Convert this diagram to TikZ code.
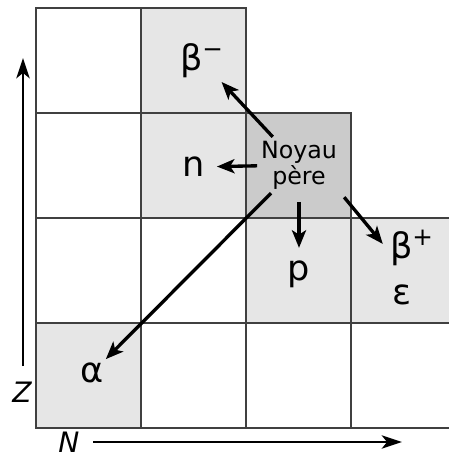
\documentclass[tikz,border=0pt]{standalone}
\usepackage{fontspec}
\setmainfont{DejaVu Sans}
\usepackage{xcolor}
\usepackage{tikz}
\usetikzlibrary{positioning, arrows.meta}
\definecolor{lightfill}{HTML}{E6E6E6}
\definecolor{darkfill}{HTML}{CBCBCB}
\definecolor{gridline}{HTML}{404040}

\tikzset{
  cell/.style={draw=gridline, line width=1.1pt, minimum size=2.1cm, inner sep=0pt},
  lbl/.style={font=\fontsize{20}{24}\selectfont, inner sep=2pt},
  decay/.style={-{Stealth[length=10pt, width=8pt, inset=2.5pt]}, line width=1.9pt},
  axis/.style={-{Stealth[length=11.5pt, width=7.5pt, inset=3pt]}, line width=1.6pt},
}

\begin{document}
\begin{tikzpicture}[x=0.02cm, y=-0.02cm]
    \useasboundingbox (0,0) rectangle (449,457);

    % grid of nuclei
    \node[cell] (c00) at (88.5,60.5) {};
    \node[cell, fill=lightfill] (c01) at (193.5,60.5) {};
    \node[cell] (c10) at (88.5,165.5) {};
    \node[cell, fill=lightfill] (c11) at (193.5,165.5) {};
    \node[cell, fill=darkfill] (c12) at (298.5,165.5) {};
    \node[cell] (c20) at (88.5,270.5) {};
    \node[cell] (c21) at (193.5,270.5) {};
    \node[cell, fill=lightfill] (c22) at (298.5,270.5) {};
    \node[cell, fill=lightfill] (c23) at (403.5,270.5) {};
    \node[cell, fill=lightfill] (c30) at (88.5,375.5) {};
    \node[cell] (c31) at (193.5,375.5) {};
    \node[cell] (c32) at (298.5,375.5) {};
    \node[cell] (c33) at (403.5,375.5) {};

    % labels
    \node[align=center, font=\fontsize{13.5}{15}\selectfont, inner sep=2pt] (pere) at (299,165) {Noyau\\père};
    \node[lbl] (bminus) at (202,61) {β\textsuperscript{−}};
    \node[lbl] (n) at (194,167) {n};
    \node[lbl] (p) at (299,274) {p};
    \node[lbl] (bplus) at (412,248) {β\textsuperscript{+}};
    \node[lbl] (eps) at (402,295) {ε};
    \node[lbl] (alpha) at (92,373) {α};

    % decays
    \draw[decay] (pere) -- (bminus);
    \draw[decay, shorten >=4.5pt] (pere) -- (n);
    \draw[decay, shorten <=5pt, shorten >=5pt] (pere) -- (p);
    \draw[decay, shorten <=3pt, shorten >=3pt] (pere.south east) -- (bplus.west);
    \draw[decay] (pere) -- (alpha);

    % axes
    \coordinate (zlo) at (23,366);
    \coordinate (zhi) at (23,58);
    \coordinate (nlo) at (93,442);
    \coordinate (nhi) at (402,442);
    \draw[axis] (zlo) -- (zhi);
    \draw[axis] (nlo) -- (nhi);
    \node[font=\fontsize{16}{19}\selectfont\itshape, inner sep=0pt] (zlab) at (22,392) {Z};
    \node[font=\fontsize{16}{19}\selectfont\itshape, inner sep=0pt] (nlab) at (69,442) {N};
\end{tikzpicture}
\end{document}
